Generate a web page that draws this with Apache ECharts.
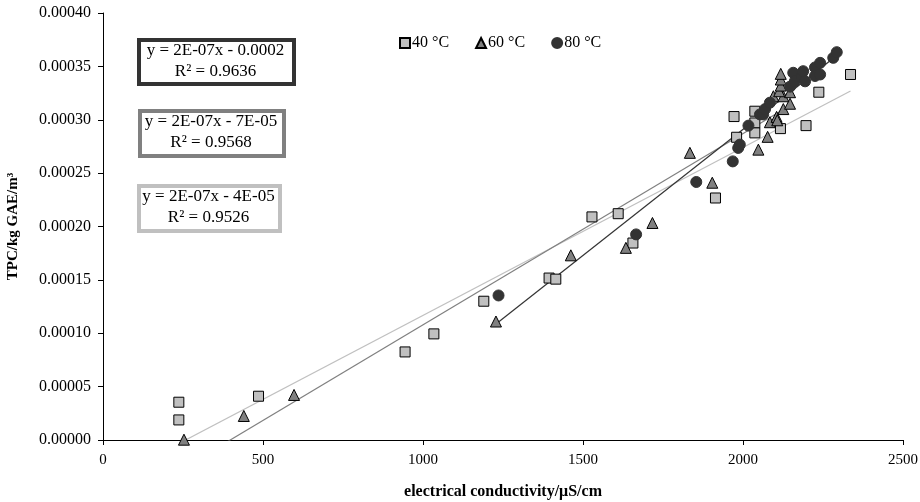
<!DOCTYPE html>
<html><head><meta charset="utf-8">
<script src="https://cdn.jsdelivr.net/npm/echarts@6/dist/echarts.min.js"></script>
<style>html,body{margin:0;padding:0;background:#fff}#c{width:920px;height:502px}</style>
</head><body><div id="c"></div>
<script>
// ---- data ----
const seriesNames = ['40 °C', '60 °C', '80 °C'];
const x40 = [237, 237, 486, 944, 1034, 1190, 1394, 1415, 1528, 1610, 1656, 1914, 1972, 1980, 2037, 2037, 2037, 2117, 2197, 2237, 2336];
const y40 = [0.0000188, 0.0000354, 0.000041, 0.0000825, 0.0000994, 0.00013, 0.0001517, 0.0001507, 0.000209, 0.000212, 0.0001845, 0.0002267, 0.000303, 0.0002836, 0.000308, 0.000297, 0.0002877, 0.0002917, 0.0002945, 0.0003258, 0.0003424];
const x60 = [253, 440, 597, 1228, 1462, 1634, 1717, 1834, 1904, 2048, 2077, 2084, 2105, 2107, 2126, 2147, 2095, 2126, 2147, 2113, 2118, 2118, 2118];
const y60 = [0.0000003, 0.0000225, 0.0000422, 0.000111, 0.000173, 0.00018, 0.0002033, 0.000269, 0.000241, 0.000272, 0.000284, 0.0002977, 0.0003027, 0.0002995, 0.00031, 0.000315, 0.000322, 0.000322, 0.0003258, 0.0003267, 0.000332, 0.0003377, 0.000343];
const x80 = [1236, 1666, 1854, 1968, 1985, 1990, 2017, 2053, 2063, 2069, 2084, 2147, 2157, 2162, 2183, 2188, 2194, 2225, 2225, 2241, 2241, 2282, 2293];
const y80 = [0.0001354, 0.0001926, 0.0002417, 0.000261, 0.0002736, 0.0002767, 0.0002945, 0.000305, 0.000305, 0.00031, 0.000316, 0.000331, 0.000344, 0.000336, 0.00034, 0.0003455, 0.000336, 0.000349, 0.000341, 0.0003533, 0.0003424, 0.000358, 0.0003633];
const eqLabels = ['y = 2E-07x - 0.0002', 'y = 2E-07x - 7E-05', 'y = 2E-07x - 4E-05'];
const r2Labels = ['R² = 0.9636', 'R² = 0.9568', 'R² = 0.9526'];
const xTicks = [0, 500, 1000, 1500, 2000, 2500];
const yTicks = [0, 0.00005, 0.0001, 0.00015, 0.0002, 0.00025, 0.0003, 0.00035, 0.0004];

const FONT = '"Liberation Serif", "Times New Roman", serif';
function pairs(xs, ys){ return xs.map((x,i)=>[x, ys[i]]); }
function fit(xs, ys){
  const n = xs.length; let sx=0, sy=0, sxx=0, sxy=0;
  for (let i=0;i<n;i++){ sx+=xs[i]; sy+=ys[i]; sxx+=xs[i]*xs[i]; sxy+=xs[i]*ys[i]; }
  const b = (n*sxy - sx*sy)/(n*sxx - sx*sx); const a = (sy - b*sx)/n;
  const x0 = Math.min(...xs), x1 = Math.max(...xs);
  return [[x0, a+b*x0],[x1, a+b*x1]];
}
const chart = echarts.init(document.getElementById('c'), null, {renderer:'canvas'});
const markerStyles = [
  {symbol:'rect', size:10, color:'#c0c0c0', border:'#000'},
  {symbol:'triangle', size:11, color:'#808080', border:'#000'},
  {symbol:'circle', size:11, color:'#333333', border:'#333333'}
];
const trendColors = ['#c0c0c0', '#808080', '#333333'];
const datasets = [pairs(x40,y40), pairs(x60,y60), pairs(x80,y80)];
const fits = [fit(x40,y40), fit(x60,y60), fit(x80,y80)];
const series = [];
datasets.forEach((d,i)=>{
  series.push({name: seriesNames[i], type:'scatter', data:d, symbol:markerStyles[i].symbol,
    symbolSize:markerStyles[i].size, z:3,
    itemStyle:{color:markerStyles[i].color, borderColor:markerStyles[i].border, borderWidth:1, opacity:1}});
});
fits.forEach((f,i)=>{
  series.push({name:'trend'+i, type:'line', data:f, symbol:'none', clip:true, silent:true, z:2,
    lineStyle:{color:trendColors[i], width:1.2}});
});
// equation boxes
const boxes = [
  {x:137, y:38, w:155, h:44, stroke:'#333333'},
  {x:138, y:109, w:144, h:45, stroke:'#808080'},
  {x:137, y:184, w:141, h:45, stroke:'#c0c0c0'}
];
const graphic = [];
boxes.forEach((b,i)=>{
  graphic.push({type:'rect', left:b.x, top:b.y, shape:{width:b.w, height:b.h},
    style:{fill:'#fff', stroke:b.stroke, lineWidth:4}, z:10});
  graphic.push({type:'text', x:b.x+b.w/2+1, y:b.y+b.h/2+1, z:11,
    style:{text: eqLabels[i] + '\n' + r2Labels[i], align:'center', verticalAlign:'middle',
      font:'17px ' + FONT, fill:'#000', lineHeight:21}});
});
chart.setOption({
  animation:false,
  backgroundColor:'#fff',
  grid:{left:103, right:17, top:13, bottom:62, containLabel:false, outerBoundsMode:'none'},
  legend:{data: seriesNames.map((n,i)=>({name:n, icon: markerStyles[i].symbol})), left:394, top:30, itemWidth:10, itemHeight:10, itemGap:26,
    textStyle:{fontFamily:FONT, fontSize:16, color:'#000', padding:[0,0,0,-3]}},
  xAxis:{type:'value', min:0, max:2500, interval:500,
    name:'electrical conductivity/μS/cm', nameLocation:'middle', nameGap:44,
    nameTextStyle:{fontFamily:FONT, fontSize:16, fontWeight:'bold', color:'#000'},
    axisLine:{show:true, lineStyle:{color:'#000', width:1}},
    axisTick:{show:true, length:5, lineStyle:{color:'#000'}},
    axisLabel:{fontFamily:FONT, fontSize:15, color:'#000', margin:13,
      formatter:(v)=> xTicks.includes(v) ? String(v) : ''},
    splitLine:{show:false}},
  yAxis:{type:'value', min:0, max:0.0004, interval:0.00005,
    name:'TPC/kg GAE/m³', nameLocation:'middle', nameGap:82, nameRotate:90,
    nameTextStyle:{fontFamily:FONT, fontSize:15, fontWeight:'bold', color:'#000'},
    axisLine:{show:true, onZero:false, lineStyle:{color:'#000', width:1}},
    axisTick:{show:true, length:5, lineStyle:{color:'#000'}},
    axisLabel:{fontFamily:FONT, fontSize:16, color:'#000', margin:12,
      formatter:(v)=>{ const t = yTicks.find(k=>Math.abs(k-v)<1e-9); return t===undefined ? '' : t.toFixed(5); }},
    splitLine:{show:false}},
  series: series,
  graphic: graphic
});
</script></body></html>
